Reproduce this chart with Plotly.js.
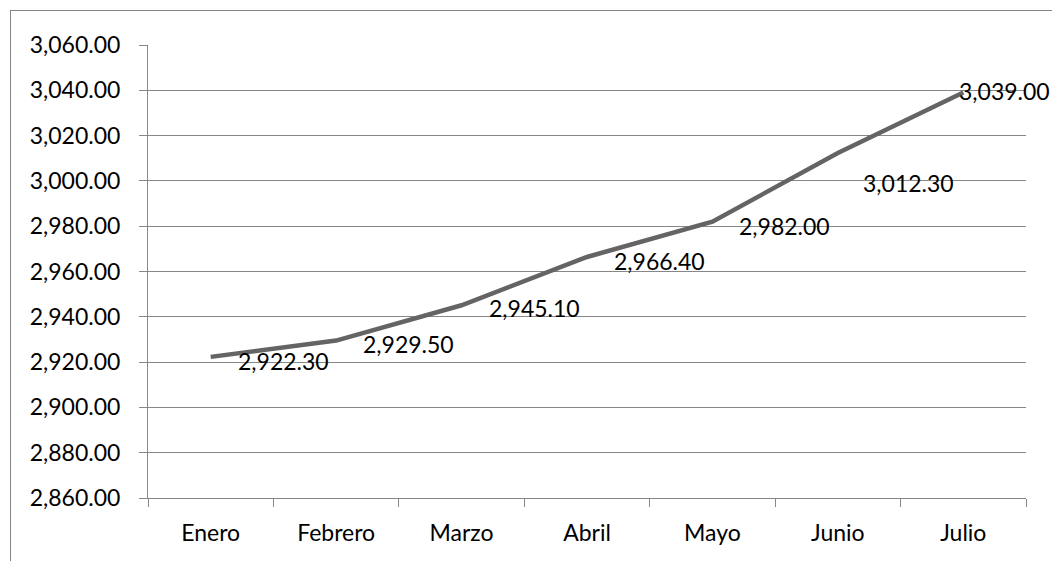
<!DOCTYPE html>
<html>
<head>
<meta charset="utf-8">
<script src="https://cdn.plot.ly/plotly-3.0.1.min.js"></script>
<style>
  html, body { margin: 0; padding: 0; background: #fff; overflow: hidden; }
  #wrap { position: relative; width: 1052px; height: 561px; }
  #chart { position: absolute; left: 0; top: 0; width: 1052px; height: 561px; }
  #frame { position: absolute; left: 10px; top: 10px; width: 1100px; height: 600px;
           border-left: 1px solid #858585; border-top: 1px solid #858585; pointer-events: none; }
</style>
</head>
<body>
<div id="wrap">
  <div id="chart"></div>
  <div id="frame"></div>
</div>
<script>
const months = ["Enero", "Febrero", "Marzo", "Abril", "Mayo", "Junio", "Julio"];
const values = [2922.3, 2929.5, 2945.1, 2966.4, 2982.0, 3012.3, 3039.0];
const yTicks = [2860, 2880, 2900, 2920, 2940, 2960, 2980, 3000, 3020, 3040, 3060];

const FONT = "Lato, 'Open Sans', sans-serif";
const FS = 23;
const gridColor = "#878787";

// label offsets (pixels) mimicking Excel's data-label placement
const labelDx = [25, 25, 25, 25, 25, 23, -6];
const labelDy = [-4, -3, -3, -4, -4, -30, 2];

const fmt = v => v.toLocaleString("en-US", {minimumFractionDigits: 2, maximumFractionDigits: 2});

const annotations = months.map((m, i) => ({
  x: m, y: values[i], xref: "x", yref: "y",
  text: fmt(values[i]), showarrow: false,
  xanchor: "left", yanchor: "middle",
  xshift: labelDx[i], yshift: labelDy[i],
  font: {family: FONT, size: FS, color: "#000"}
}));

const trace = {
  type: "scatter", mode: "lines",
  x: months, y: values,
  line: {color: "#646464", width: 4.5},
  hoverinfo: "skip"
};

const layout = {
  width: 1052, height: 561,
  margin: {l: 148, r: 26, t: 45, b: 63},
  paper_bgcolor: "#fff", plot_bgcolor: "#fff",
  showlegend: false,
  font: {family: FONT, size: FS, color: "#000"},
  xaxis: {
    type: "category", range: [-0.5, 6.5],
    tickson: "boundaries", ticks: "outside", ticklen: 8, tickcolor: gridColor, tickwidth: 1,
    showgrid: false, showline: true, linecolor: gridColor, linewidth: 1,
    tickfont: {family: FONT, size: FS, color: "#000"},
    ticklabelstandoff: 14, zeroline: false, fixedrange: true
  },
  yaxis: {
    range: [2860, 3060], tickvals: yTicks, tickformat: ",.2f",
    ticks: "outside", ticklen: 8, tickcolor: gridColor, tickwidth: 1,
    showgrid: true, gridcolor: gridColor, gridwidth: 1,
    showline: true, linecolor: gridColor, linewidth: 1,
    tickfont: {family: FONT, size: FS, color: "#000"},
    ticklabelstandoff: 14, zeroline: false, fixedrange: true
  },
  annotations: annotations
};

Plotly.newPlot("chart", [trace], layout, {staticPlot: true, displayModeBar: false});
</script>
</body>
</html>
